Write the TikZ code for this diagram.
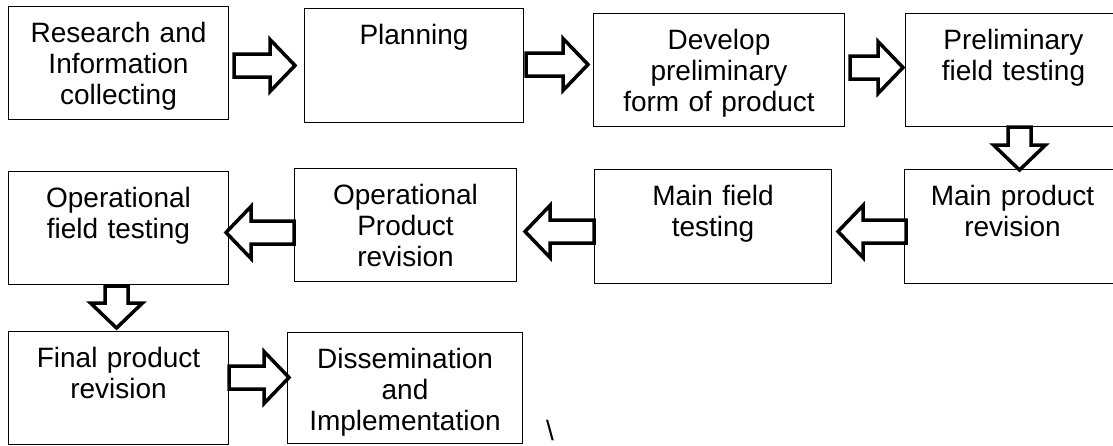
\documentclass[tikz,border=0pt]{standalone}
\usepackage{fontspec}
\setmainfont{Liberation Sans}
\usetikzlibrary{calc}

\begin{document}
\begin{tikzpicture}[x=1pt, y=-1pt]
\tikzset{stepbox/.style={draw, line width=1pt, anchor=north west, inner sep=0pt, align=center, text height=35.5pt, text depth=77.5pt, font=\fontsize{28}{31}\selectfont},
blockarrow/.style={draw=black, fill=white, line width=3.5pt, to path={($(\tikztostart)!11.5pt!90:(\tikztotarget)$) -- ($(\tikztotarget)!25pt!(\tikztostart)!11.5pt!90:(\tikztotarget)$) -- ($(\tikztotarget)!25pt!(\tikztostart)!26pt!90:(\tikztotarget)$) -- (\tikztotarget) -- ($(\tikztotarget)!25pt!(\tikztostart)!26pt!-90:(\tikztotarget)$) -- ($(\tikztotarget)!25pt!(\tikztostart)!11.5pt!-90:(\tikztotarget)$) -- ($(\tikztostart)!11.5pt!-90:(\tikztotarget)$) -- cycle}}}

% Normalize bounding box
\useasboundingbox (0,0) rectangle (1113,445);
\clip (0,0) rectangle (1113,445);

% row 1
\node [stepbox, text width=220pt] (res) at (8,6) {Research and\\Information\\collecting};
\node [stepbox, text width=219pt, text depth=78.5pt] (plan) at (304,8) {Planning};
\node [stepbox, text width=251pt] (dev) at (593,13) {Develop\\preliminary\\form of product};
\node [stepbox, text width=216pt] (prelim) at (905,13) {Preliminary\\field testing};

% row 2
\node [stepbox, text width=216pt, text depth=78.5pt] (mainprod) at (904,169) {Main product\\revision};
\node [stepbox, text width=237pt, text depth=78.5pt] (mainfield) at (594,169) {Main field\\testing};
\node [stepbox, text width=222pt] (opprod) at (294,168) {Operational\\Product\\revision};
\node [stepbox, text width=220pt] (opfield) at (8,171) {Operational\\field testing};

% row 3
\node [stepbox, text width=220pt] (final) at (8,331) {Final product\\revision};
\node [stepbox, text width=235pt, text depth=75.5pt] (diss) at (287,332) {Dissemination\\and\\Implementation};
\node [anchor=base west, inner sep=0pt, font=\fontsize{28}{31}\selectfont] (slash) at (546,440) {\textbackslash};

\coordinate (a1s) at ($(res.east) + (5,2.5)$);
\coordinate (a1e) at ($(plan.west) + (-9,0)$);
\coordinate (a2s) at ($(plan.east) + (2,-1)$);
\coordinate (a2e) at ($(dev.west) + (-5,-5.5)$);
\coordinate (a3s) at ($(dev.east) + (5,-2.5)$);
\coordinate (a3e) at ($(prelim.west) + (-2,-2.5)$);
\coordinate (a4s) at ($(prelim.south) + (6,0)$);
\coordinate (a4e) at ($(mainprod.north) + (7,1)$);
\coordinate (a5s) at ($(mainprod.west) + (2,5)$);
\coordinate (a5e) at ($(mainfield.east) + (6,5)$);
\coordinate (a6s) at ($(mainfield.west) + (0,5)$);
\coordinate (a6e) at ($(opprod.east) + (8,6.5)$);
\coordinate (a7s) at ($(opprod.west) + (0,7.5)$);
\coordinate (a7e) at ($(opfield.east) + (-3,4.5)$);
\coordinate (a8s) at ($(opfield.south) + (-2,1)$);
\coordinate (a8e) at ($(final.north) + (-2,-3)$);
\coordinate (a9s) at ($(final.east) + (0,-10.5)$);
\coordinate (a9e) at ($(diss.west) + (2,-10.5)$);

\draw [blockarrow] (a1s) to (a1e);
\draw [blockarrow] (a2s) to (a2e);
\draw [blockarrow] (a3s) to (a3e);
\draw [blockarrow] (a4s) to (a4e);
\draw [blockarrow] (a5s) to (a5e);
\draw [blockarrow] (a6s) to (a6e);
\draw [blockarrow] (a7s) to (a7e);
\draw [blockarrow] (a8s) to (a8e);
\draw [blockarrow] (a9s) to (a9e);

\end{tikzpicture}
\end{document}
